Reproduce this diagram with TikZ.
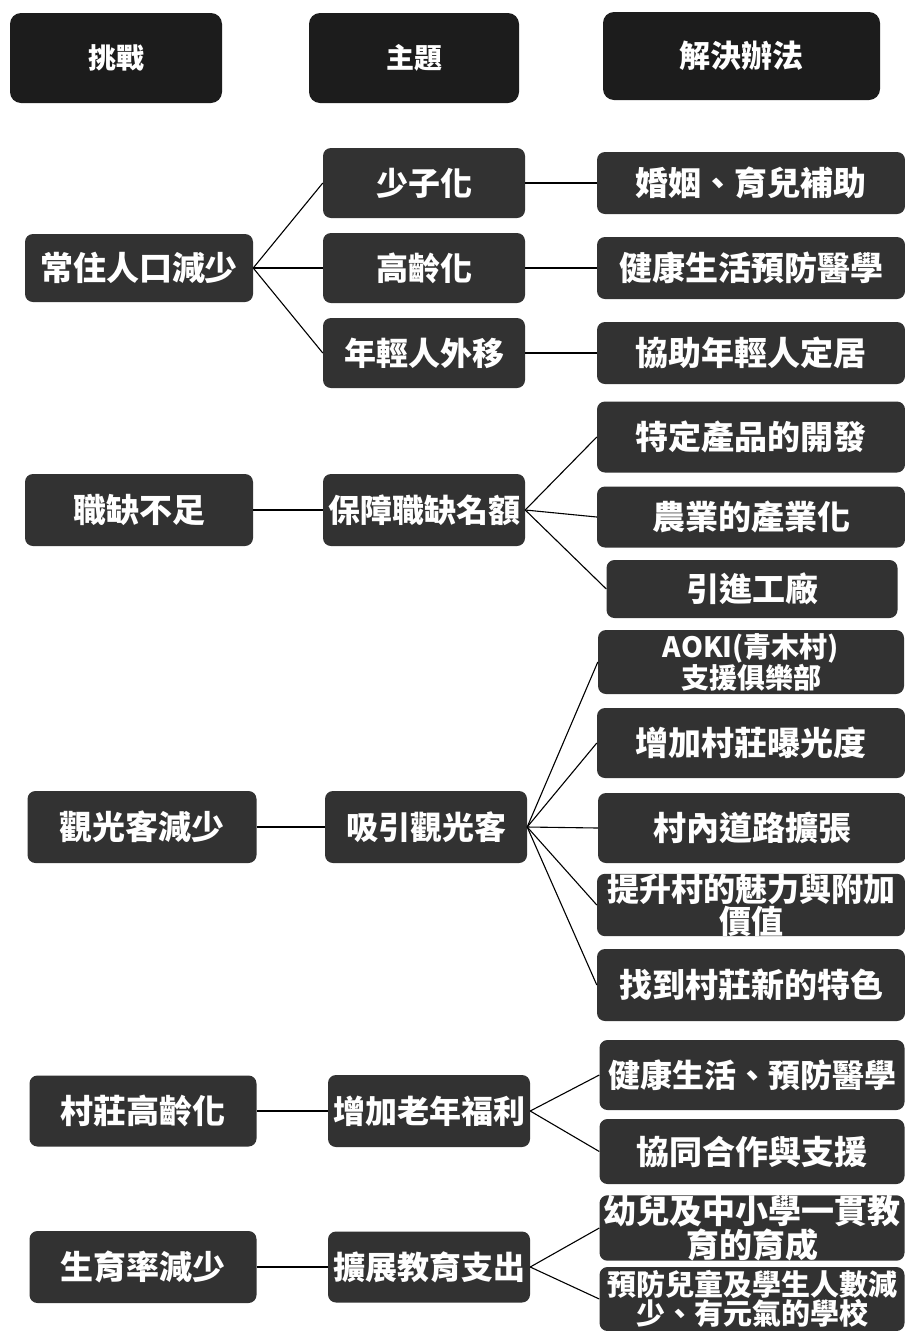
\documentclass[tikz,border=0pt]{standalone}
\usepackage{fontspec}
\newfontfamily\cjk{Noto Sans CJK TC}
\definecolor{headfill}{RGB}{28,28,28}
\definecolor{boxfill}{RGB}{50,50,50}
\begin{document}
\begin{tikzpicture}[x=1pt,y=-1pt,
  headbox/.style={fill=headfill, rounded corners=11pt, text=white, inner sep=0pt,
    align=center, font=\cjk\bfseries\fontsize{28}{30}\selectfont},
  cbox/.style={fill=boxfill, rounded corners=8pt, text=white, inner sep=0pt,
    align=center, minimum width=228pt, font=\cjk\bfseries\fontsize{33}{36}\selectfont},
  tbox/.style={fill=boxfill, rounded corners=8pt, text=white, inner sep=0pt,
    align=center, minimum width=202pt, font=\cjk\bfseries\fontsize{32}{35}\selectfont},
  sbox/.style={fill=boxfill, rounded corners=8pt, text=white, inner sep=0pt,
    align=center, minimum width=308pt, font=\cjk\bfseries\fontsize{33}{34}\selectfont},
  link/.style={draw=black, line width=1.1pt}]
\useasboundingbox[fill=white] (0,0) rectangle (905,1331);

% column headers
\node[headbox, minimum width=212pt, minimum height=90pt] (h1) at (116,58) {挑戰};
\node[headbox, minimum width=210pt, minimum height=90pt] (h2) at (414,58) {主題};
\node[headbox, minimum width=277pt, minimum height=88pt, font=\cjk\bfseries\fontsize{31}{33}\selectfont] (h3) at (741.5,56) {解決辦法};

% row 1
\node[cbox, minimum height=68pt] (c1) at (139,268) {常住人口減少};
\node[tbox, minimum height=70pt] (t1a) at (424,183) {少子化};
\node[tbox, minimum height=70pt] (t1b) at (424,268) {高齡化};
\node[tbox, minimum height=70pt] (t1c) at (424,353) {年輕人外移};
\node[sbox, minimum height=62pt] (s1a) at (751,183) {婚姻、育兒補助};
\node[sbox, minimum height=62pt] (s1b) at (751,268) {健康生活預防醫學};
\node[sbox, minimum height=62pt] (s1c) at (751,353) {協助年輕人定居};

% row 2
\node[cbox, minimum height=72pt] (c2) at (139,510) {職缺不足};
\node[tbox, minimum height=72pt] (t2) at (424,510) {保障職缺名額};
\node[sbox, minimum height=71pt] (s2a) at (751,437) {特定產品的開發};
\node[sbox, minimum height=61pt] (s2b) at (751,517) {農業的產業化};
\node[sbox, minimum width=291pt, minimum height=58pt] (s2c) at (752,589) {引進工廠};

% row 3
\node[cbox, minimum width=229pt, minimum height=72pt] (c3) at (142,827) {觀光客減少};
\node[tbox, minimum height=72pt] (t3) at (426,827) {吸引觀光客};
\node[sbox, minimum width=306pt, minimum height=64pt, font=\cjk\bfseries\fontsize{28}{31}\selectfont] (s3a) at (751,662) {AOKI(青木村)\\支援俱樂部};
\node[sbox, minimum height=70pt] (s3b) at (751,743) {增加村莊曝光度};
\node[sbox, minimum height=70pt] (s3c) at (752,828) {村內道路擴張};
\node[sbox, minimum height=58pt, font=\cjk\bfseries\fontsize{32}{30}\selectfont] (s3d) at (751,905) {提升村的魅力與附加\\價值};
\node[sbox, minimum height=72pt] (s3e) at (751,985) {找到村莊新的特色};

% row 4
\node[cbox, minimum width=227pt, minimum height=71pt] (c4) at (143,1111) {村莊高齡化};
\node[tbox, minimum height=72pt] (t4) at (429,1111) {增加老年福利};
\node[sbox, minimum width=305pt, minimum height=70pt, font=\cjk\bfseries\fontsize{32}{34}\selectfont] (s4a) at (752,1075) {健康生活、預防醫學};
\node[sbox, minimum width=305pt, minimum height=65pt] (s4b) at (752,1151.5) {協同合作與支援};

% row 5
\node[cbox, minimum width=227pt, minimum height=72pt] (c5) at (143,1267) {生育率減少};
\node[tbox, minimum height=71pt] (t5) at (429,1267) {擴展教育支出};
\node[sbox, minimum width=305pt, minimum height=63pt, font=\cjk\bfseries\fontsize{33}{31}\selectfont] (s5a) at (752,1228) {幼兒及中小學一貫教\\育的育成};
\node[sbox, minimum width=305pt, minimum height=64pt, font=\cjk\bfseries\fontsize{29}{29}\selectfont] (s5b) at (752,1299) {預防兒童及學生人數減\\少、有元氣的學校};

% connectors: challenge -> theme
\foreach \t in {t1a,t1b,t1c} \draw[link] (c1.east) -- (\t.west);
\draw[link] (c2.east) -- (t2.west);
\draw[link] (c3.east) -- (t3.west);
\draw[link] (c4.east) -- (t4.west);
\draw[link] (c5.east) -- (t5.west);

% connectors: theme -> solution
\draw[link] (t1a.east) -- (s1a.west);
\draw[link] (t1b.east) -- (s1b.west);
\draw[link] (t1c.east) -- (s1c.west);
\foreach \s in {s2a,s2b,s2c} \draw[link] (t2.east) -- (\s.west);
\foreach \s in {s3a,s3b,s3c,s3d,s3e} \draw[link] (t3.east) -- (\s.west);
\foreach \s in {s4a,s4b} \draw[link] (t4.east) -- (\s.west);
\foreach \s in {s5a,s5b} \draw[link] (t5.east) -- (\s.west);
\end{tikzpicture}
\end{document}
